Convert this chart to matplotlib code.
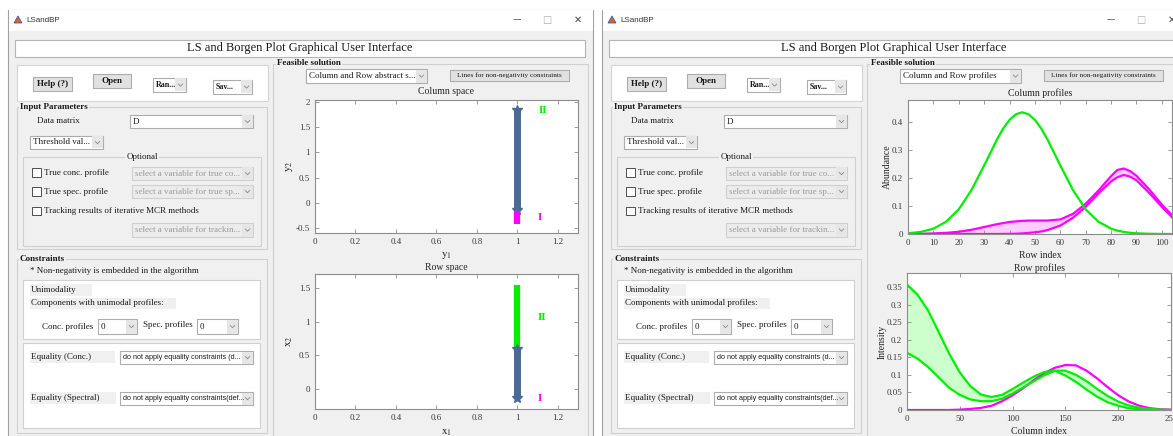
import matplotlib
matplotlib.use('Agg')
import matplotlib.pyplot as plt
from matplotlib.patches import Rectangle, Polygon
from matplotlib.lines import Line2D
from matplotlib.ticker import FuncFormatter

plt.rcParams['font.family'] = ['Liberation Serif', 'DejaVu Serif']
plt.rcParams['mathtext.fontset'] = 'stix'

# feasible bands at y1 = 1 / x1 = 1 (lower, upper)
col_space_blue = [-0.15, 1.85]
col_space_magenta = [-0.42, -0.17]
row_space_blue = [-0.13, 0.60]
row_space_green = [0.60, 1.55]

# column profiles (row index 0..104)
row_idx = [0, 5, 10, 15, 20, 25, 30, 35, 37.5, 40, 42.5, 45, 47.5, 50, 52.5, 55, 60, 65, 70, 75,
           80, 82.5, 85, 87.5, 90, 95, 100, 104]
col_green = [0.0025, 0.0074, 0.019, 0.044, 0.088, 0.157, 0.245, 0.337, 0.377, 0.408, 0.428, 0.435,
             0.428, 0.408, 0.377, 0.337, 0.245, 0.157, 0.088, 0.044, 0.019, 0.012, 0.0074, 0.0043,
             0.0025, 0.0008, 0.0002, 0.0001]
col_mag_hi = [0.0, 0.0005, 0.002, 0.004, 0.008, 0.015, 0.025, 0.035, 0.039, 0.043, 0.045, 0.047,
              0.048, 0.048, 0.048, 0.048, 0.052, 0.072, 0.108, 0.155, 0.207, 0.229, 0.234, 0.225,
              0.208, 0.160, 0.105, 0.067]
col_mag_lo = [0.0, 0.0, 0.0, 0.0, 0.0, 0.0, 0.0, 0.0, 0.0002, 0.0005, 0.001, 0.002, 0.004, 0.006,
              0.009, 0.014, 0.030, 0.058, 0.097, 0.145, 0.188, 0.203, 0.211, 0.205, 0.192, 0.147,
              0.097, 0.060]

# row profiles (column index 0..250)
col_idx = list(range(0, 251, 10))
row_green_a = [0.357, 0.328, 0.283, 0.222, 0.160, 0.107, 0.068, 0.044, 0.037, 0.043, 0.060, 0.078, 0.095,
               0.108, 0.112, 0.098, 0.080, 0.058, 0.038, 0.022, 0.012, 0.005, 0.002, 0.001, 0.0, 0.0]
row_green_b = [0.163, 0.146, 0.122, 0.093, 0.063, 0.043, 0.030, 0.025, 0.025, 0.032, 0.047, 0.064, 0.082,
               0.099, 0.112, 0.112, 0.100, 0.082, 0.060, 0.040, 0.024, 0.013, 0.006, 0.003, 0.001, 0.0]
row_magenta = [0.0, 0.0, 0.0, 0.0, 0.0, 0.001, 0.003, 0.006, 0.012, 0.025, 0.042, 0.062, 0.085,
               0.105, 0.120, 0.128, 0.127, 0.112, 0.090, 0.065, 0.042, 0.024, 0.012, 0.005, 0.002, 0.001]

GREEN = '#00ee00'
MAGENTA = '#ff00ff'
BLUE = '#4a6996'

W, H = 1173, 436
fig = plt.figure(figsize=(W / 100, H / 100), dpi=100)
fig.patch.set_facecolor('white')


def box(x0, y0, x1, y1, fc='none', ec='#adadad', lw=0.8, z=-1):
    fig.add_artist(Rectangle((x0 / W, 1 - y1 / H), (x1 - x0) / W, (y1 - y0) / H,
                             transform=fig.transFigure, facecolor=fc, edgecolor=ec,
                             linewidth=lw, zorder=z))


def line(xs, ys, color='#888888', lw=0.7, z=-0.5):
    fig.add_artist(Line2D([x / W for x in xs], [1 - y / H for y in ys],
                          transform=fig.transFigure, color=color, lw=lw, zorder=z))


def label(x, y, s, size=6.5, ha='left', weight='normal', color='#1a1a1a', family=None, bg=None):
    kw = {}
    if family:
        kw['family'] = family
    if bg:
        kw['bbox'] = dict(facecolor=bg, edgecolor='none', pad=0.6)
    fig.text(x / W, 1 - y / H, s, fontsize=size, ha=ha, va='center', weight=weight,
             color=color, zorder=1, **kw)


def dropdown(x0, y0, x1, y1, s, size=6.5, weight='normal', disabled=False, family=None):
    fc = '#ececec' if disabled else 'white'
    ec = '#cfcfcf' if disabled else '#adadad'
    box(x0, y0, x1, y1, fc=fc, ec=ec)
    box(x1 - 11, y0 + 0.5, x1 - 0.5, y1 - 0.5, fc='#e6e6e6', ec='none', z=-0.8)
    cx, cy = x1 - 5.5, (y0 + y1) / 2
    line([cx - 2.2, cx, cx + 2.2], [cy - 1.0, cy + 1.2, cy - 1.0], color='#8a8a8a', lw=0.6)
    label(x0 + 3, (y0 + y1) / 2, s, size=size, weight=weight,
          color='#9a9a9a' if disabled else '#1a1a1a', family=family)


def button(x0, y0, x1, y1, s, size=6.5, weight='bold'):
    box(x0, y0, x1, y1, fc='#e1e1e1', ec='#adadad')
    label((x0 + x1) / 2, (y0 + y1) / 2, s, size=size, ha='center', weight=weight)


def checkbox(x, y, s):
    box(x, y - 4.5, x + 9, y + 4, fc='white', ec='#333333', lw=0.6)
    label(x + 12, y, s)


def window(ox, feasible_text):
    def X(v):
        return v + ox
    # frame, title bar, client area
    box(X(8), 10, X(593), 445, fc='#f0f0f0', ec='#a0a0a0', z=-3)
    box(X(8.5), 10.5, X(592.5), 31, fc='white', ec='none', z=-2.9)
    fig.add_artist(Polygon([(X(14) / W, 1 - 23 / H), (X(18) / W, 1 - 16 / H), (X(22) / W, 1 - 23 / H)],
                           closed=True, transform=fig.transFigure, facecolor='#e8601c',
                           edgecolor='#2a63b8', lw=0.6, zorder=-0.5))
    label(X(26), 20, 'LSandBP', size=5.8, family='Liberation Sans', color='#333333')
    label(X(517), 20, '\u2014', size=6, ha='center', family='DejaVu Sans', color='#555555')
    label(X(547), 20, '\u25a1', size=7, ha='center', family='DejaVu Sans', color='#b0b0b0')
    label(X(578), 20, '\u2715', size=7, ha='center', family='DejaVu Sans', color='#444444')

    # title box
    box(X(15), 40, X(585), 57, fc='white', ec='#b4b4b4')
    label(X(300), 48.5, 'LS and Borgen Plot Graphical User Interface', size=9, ha='center')

    # button panel
    box(X(17), 65, X(268), 101, fc='white', ec='#d4d4d4')
    button(X(33), 77, X(72), 91, 'Help (?)')
    button(X(93), 74, X(131), 88, 'Open')
    dropdown(X(153), 78, X(186), 92, 'Ran...', size=5.8, weight='bold')
    dropdown(X(213), 80, X(252), 94, 'Sav...', size=5.8, weight='bold')

    # input parameters
    box(X(17), 107, X(267), 249, ec='#d0d0d0')
    label(X(20), 107, 'Input Parameters', weight='bold', bg='#f0f0f0')
    label(X(37), 121, 'Data matrix')
    dropdown(X(130), 115, X(253), 128, 'D')
    dropdown(X(30), 136, X(103), 149, 'Threshold val...')
    box(X(23), 157, X(261), 246, ec='#d0d0d0')
    label(X(142), 157, 'Optional', ha='center', bg='#f0f0f0')
    checkbox(X(32), 173, 'True conc. profile')
    dropdown(X(132), 167, X(253), 180, 'select a variable for true co...', disabled=True)
    checkbox(X(32), 192, 'True spec. profile')
    dropdown(X(132), 185, X(253), 198, 'select a variable for true sp...', disabled=True)
    checkbox(X(32), 211, 'Tracking results of iterative MCR methods')
    dropdown(X(132), 223, X(253), 237, 'select a variable for trackin...', disabled=True)

    # constraints
    box(X(17), 259, X(267), 433, ec='#d0d0d0')
    label(X(20), 259, 'Constraints', weight='bold', bg='#f0f0f0')
    label(X(30), 271, '* Non-negativity is embedded in the algorithm')
    box(X(23), 280, X(260), 339, fc='white', ec='#d0d0d0')
    box(X(30), 284, X(92), 296, fc='#f0f0f0', ec='none', z=-0.9)
    label(X(31), 290, 'Unimodality')
    box(X(30), 298, X(176), 309, fc='#f0f0f0', ec='none', z=-0.9)
    label(X(31), 303, 'Components with unimodal profiles:')
    label(X(42), 327, 'Conc. profiles')
    dropdown(X(98), 319, X(137), 334, '0')
    label(X(143), 325, 'Spec. profiles')
    dropdown(X(197), 319, X(238), 334, '0')
    box(X(23), 343, X(260), 428, fc='white', ec='#d0d0d0')
    box(X(30), 351, X(115), 363, fc='#f0f0f0', ec='none', z=-0.9)
    label(X(31), 357, 'Equality (Conc.)')
    dropdown(X(120), 351, X(253), 364, 'do not apply equality constraints (d...',
             size=5.2, family='Liberation Sans')
    box(X(30), 392, X(116), 404, fc='#f0f0f0', ec='none', z=-0.9)
    label(X(31), 398, 'Equality (Spectral)')
    dropdown(X(120), 392, X(253), 405, 'do not apply equality constraints(def...',
             size=5.2, family='Liberation Sans')

    # feasible solution panel
    box(X(273), 64, X(588), 445, ec='#d0d0d0')
    label(X(277), 63, 'Feasible solution', weight='bold', bg='#f0f0f0')
    dropdown(X(306), 69, X(427), 83, feasible_text)
    button(X(450), 70, X(569), 81, 'Lines for non-negativity constraints', size=5.2, weight='normal')


window(0, 'Column and Row abstract s...')
window(594, 'Column and Row profiles')

fmt = FuncFormatter(lambda v, p: f'{v:g}')


def make_axes(x0, y0, x1, y1):
    ax = fig.add_axes([x0 / W, 1 - y1 / H, (x1 - x0) / W, (y1 - y0) / H])
    ax.set_facecolor('white')
    ax.tick_params(direction='in', top=True, right=True, length=3, width=0.6,
                   color='#8c8c8c', labelcolor='#3a3a3a', labelsize=6.5, pad=3.5)
    for sp in ax.spines.values():
        sp.set_color('#8c8c8c')
        sp.set_linewidth(0.8)
    ax.xaxis.set_major_formatter(fmt)
    ax.yaxis.set_major_formatter(fmt)
    return ax


def titled(ax, title, gap, height):
    ax.text(0.5, 1 + gap / height, title, transform=ax.transAxes, ha='center',
            va='center', fontsize=7, color='#262626')


# column space
ax1 = make_axes(315, 100, 578, 233)
ax1.plot([1, 1], col_space_blue, color=BLUE, lw=5, solid_capstyle='butt',
         marker='*', ms=7, mec=BLUE)
ax1.plot([1, 1], col_space_magenta, color=MAGENTA, lw=4.5, solid_capstyle='butt')
ax1.text(1.127, 1.84, 'II', color=GREEN, fontsize=8, weight='bold', ha='center', va='center')
ax1.text(1.11, -0.30, 'I', color=MAGENTA, fontsize=8, weight='bold', ha='center', va='center')
ax1.set_xlim(0, 1.3)
ax1.set_ylim(-0.6, 2.04)
ax1.set_xticks([0, 0.2, 0.4, 0.6, 0.8, 1, 1.2])
ax1.set_yticks([-0.5, 0, 0.5, 1, 1.5, 2])
ax1.set_xlabel(r'$\mathrm{y_1}$', fontsize=8, color='#262626')
ax1.set_ylabel(r'$\mathrm{y_2}$', fontsize=8, color='#262626')
ax1.xaxis.set_label_coords(0.5, -0.13)
ax1.yaxis.set_label_coords(-0.076, 0.5)
titled(ax1, 'Column space', 8, 133)

# row space
ax2 = make_axes(315, 274, 578, 409)
ax2.plot([1, 1], row_space_green, color=GREEN, lw=4.5, solid_capstyle='butt')
ax2.plot([1, 1], row_space_blue, color=BLUE, lw=5, solid_capstyle='butt',
         marker='*', ms=7, mec=BLUE)
ax2.text(1.12, 1.06, 'II', color=GREEN, fontsize=8, weight='bold', ha='center', va='center')
ax2.text(1.11, -0.15, 'I', color=MAGENTA, fontsize=8, weight='bold', ha='center', va='center')
ax2.set_xlim(0, 1.3)
ax2.set_ylim(-0.3, 1.71)
ax2.set_xticks([0, 0.2, 0.4, 0.6, 0.8, 1, 1.2])
ax2.set_yticks([0, 0.5, 1, 1.5])
ax2.set_xlabel(r'$\mathrm{x_1}$', fontsize=8, color='#262626')
ax2.set_ylabel(r'$\mathrm{x_2}$', fontsize=8, color='#262626')
ax2.xaxis.set_label_coords(0.5, -0.135)
ax2.yaxis.set_label_coords(-0.076, 0.5)
titled(ax2, 'Row space', 6, 135)

# column profiles
ax3 = make_axes(908, 100, 1172, 234)
ax3.fill_between(row_idx, col_mag_lo, col_mag_hi, color='#ffccff', lw=0)
ax3.plot(row_idx, col_mag_hi, color=MAGENTA, lw=1.6)
ax3.plot(row_idx, col_mag_lo, color=MAGENTA, lw=1.6)
ax3.plot(row_idx, col_green, color=GREEN, lw=1.6)
ax3.set_xlim(0, 104)
ax3.set_ylim(0, 0.479)
ax3.set_xticks(range(0, 101, 10))
ax3.set_yticks([0, 0.1, 0.2, 0.3, 0.4])
ax3.set_xlabel('Row index', fontsize=7, color='#262626')
ax3.set_ylabel('Abundance', fontsize=7, color='#262626')
ax3.xaxis.set_label_coords(0.5, -0.125)
ax3.yaxis.set_label_coords(-0.06, 0.5)
titled(ax3, 'Column profiles', 7, 134)

# row profiles
ax4 = make_axes(907, 273, 1171, 410)
ax4.fill_between(col_idx, row_green_b, row_green_a, color='#ccffcc', lw=0)
ax4.plot(col_idx, row_magenta, color=MAGENTA, lw=1.6)
ax4.plot(col_idx, row_green_a, color=GREEN, lw=1.6)
ax4.plot(col_idx, row_green_b, color=GREEN, lw=1.6)
ax4.set_xlim(0, 250)
ax4.set_ylim(0, 0.39)
ax4.set_xticks([0, 50, 100, 150, 200, 250])
ax4.set_yticks([0, 0.05, 0.1, 0.15, 0.2, 0.25, 0.3, 0.35])
ax4.set_xlabel('Column index', fontsize=7, color='#262626')
ax4.set_ylabel('Intensity', fontsize=7, color='#262626')
ax4.xaxis.set_label_coords(0.5, -0.125)
ax4.yaxis.set_label_coords(-0.077, 0.5)
titled(ax4, 'Row profiles', 5, 137)

fig.savefig('out.png', dpi=100)
